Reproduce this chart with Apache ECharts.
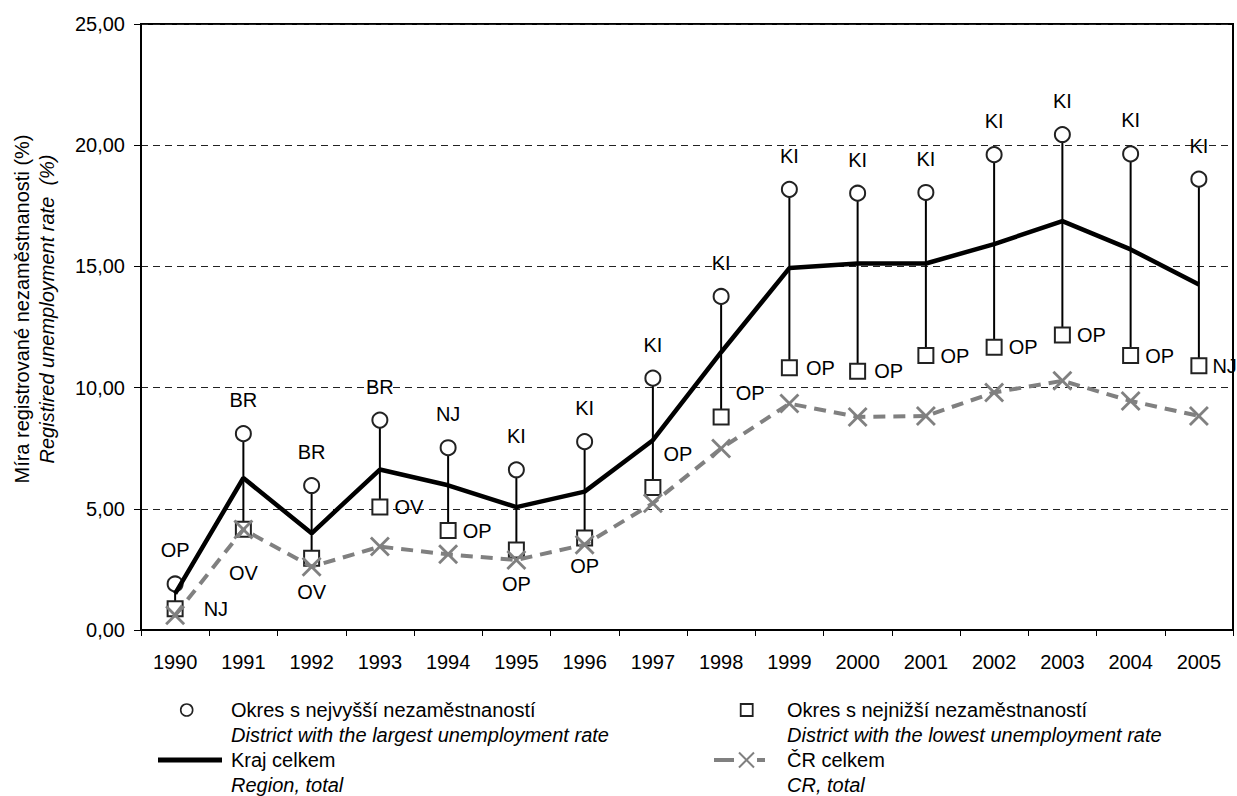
<!DOCTYPE html>
<html>
<head>
<meta charset="utf-8">
<script src="https://cdn.jsdelivr.net/npm/echarts@6/dist/echarts.min.js"></script>
<style>
html,body{margin:0;padding:0;background:#fff;}
#chart{width:1237px;height:796px;}
</style>
</head>
<body>
<div id="chart"></div>
<script>
// ---- data ----
const years = ['1990','1991','1992','1993','1994','1995','1996','1997','1998','1999','2000','2001','2002','2003','2004','2005'];
const maxDistrict = [1.90, 8.10, 5.96, 8.66, 7.52, 6.61, 7.77, 10.39, 13.76, 18.18, 18.02, 18.05, 19.61, 20.44, 19.64, 18.60];
const minDistrict = [0.88, 4.16, 2.96, 5.07, 4.10, 3.30, 3.80, 5.88, 8.79, 10.82, 10.67, 11.32, 11.66, 12.17, 11.32, 10.90];
const regionTotal = [1.50, 6.27, 3.99, 6.62, 5.97, 5.07, 5.71, 7.83, 11.46, 14.93, 15.12, 15.12, 15.92, 16.87, 15.70, 14.25];
const crTotal     = [0.61, 4.15, 2.61, 3.44, 3.12, 2.89, 3.52, 5.23, 7.49, 9.34, 8.79, 8.83, 9.80, 10.28, 9.45, 8.83];
const maxLabels = ['OP','BR','BR','BR','NJ','KI','KI','KI','KI','KI','KI','KI','KI','KI','KI','KI'];
const minLabels = ['NJ','OV','OV','OV','OP','OP','OP','OP','OP','OP','OP','OP','OP','OP','OP','NJ'];
const yTicks = [0, 5, 10, 15, 20, 25];
const legendTexts = {
  max: ['Okres s nejvyšší nezaměstnaností', 'District with the largest unemployment rate'],
  min: ['Okres s nejnižší nezaměstnaností', 'District with the lowest unemployment rate'],
  region: ['Kraj celkem', 'Region, total'],
  cr: ['ČR celkem', 'CR, total']
};

// ---- label placement (layout only) ----
const minLabelPlace = [
  {position:'right', distance:20},
  {position:'bottom', distance:25},
  {position:'bottom', distance:15},
  {position:'right', distance:6},
  {position:'right', distance:6},
  {position:'bottom', distance:15},
  {position:'bottom', distance:10},
  {position:'inside', offset:[25,-33]},
  {position:'inside', offset:[29,-24]},
  {position:'right', distance:8},
  {position:'right', distance:8},
  {position:'right', distance:6},
  {position:'right', distance:6},
  {position:'right', distance:6},
  {position:'right', distance:6},
  {position:'right', distance:5}
];

const FONT = 'Liberation Sans, Arial, sans-serif';
const X_PATH = 'path://M1,0 L5,4 L9,0 L10,1 L6,5 L10,9 L9,10 L5,6 L1,10 L0,9 L4,5 L0,1 Z';

const chart = echarts.init(document.getElementById('chart'), null, {renderer:'svg'});

function legendText(x, y, txt, italic) {
  return {type:'text', x:x, y:y, silent:true,
    style:{text:txt, font:(italic ? 'italic ' : '') + '20px ' + FONT, fill:'#000', align:'left', verticalAlign:'middle'}};
}

const LX1 = 231, LX2 = 787, R1 = 710, R2 = 735, R3 = 760, R4 = 785;

const option = {
  animation:false,
  backgroundColor:'#fff',
  textStyle:{fontFamily:FONT},
  grid:{left:141, right:4, top:24, bottom:166, show:true, borderColor:'#000', borderWidth:2, backgroundColor:'transparent'},
  xAxis:{
    type:'category', data:years, boundaryGap:true,
    axisLine:{lineStyle:{color:'#000', width:2}},
    axisTick:{show:true, interval:0, length:6, lineStyle:{color:'#000', width:1}},
    axisLabel:{interval:0, margin:22, fontSize:20, color:'#000', fontFamily:FONT},
    splitLine:{show:false}
  },
  yAxis:{
    type:'value', min:yTicks[0], max:yTicks[yTicks.length-1], interval:5,
    axisLine:{show:true, lineStyle:{color:'#000', width:2}},
    axisTick:{show:true, length:7, lineStyle:{color:'#000', width:1}},
    axisLabel:{margin:16, fontSize:20, color:'#000', fontFamily:FONT,
      formatter:v => v.toFixed(2).replace('.', ',')},
    splitLine:{show:true, lineStyle:{color:'#222', width:1, type:[7,5]}},
    name:'{a|Míra registrované nezaměstnanosti (%)}\n{b|Registired unemployment rate  (%)}',
    nameLocation:'middle', nameRotate:90, nameGap:82,
    nameTextStyle:{
      padding:[0,0,0,36],
      rich:{
        a:{fontFamily:FONT, fontSize:20, color:'#000', lineHeight:25},
        b:{fontFamily:FONT, fontSize:20, color:'#000', fontStyle:'italic', lineHeight:25}
      }
    }
  },
  graphic:[
    {type:'circle', silent:true, shape:{cx:186.7, cy:R1, r:6}, style:{fill:'#fff', stroke:'#222', lineWidth:1.6}},
    legendText(LX1, R1, legendTexts.max[0], false),
    legendText(LX1, R2, legendTexts.max[1], true),
    {type:'rect', silent:true, shape:{x:740.7, y:R1-6, width:12, height:12}, style:{fill:'#fff', stroke:'#222', lineWidth:1.8}},
    legendText(LX2, R1, legendTexts.min[0], false),
    legendText(LX2, R2, legendTexts.min[1], true),
    {type:'line', silent:true, shape:{x1:158, y1:R3, x2:222, y2:R3}, style:{stroke:'#000', lineWidth:5}},
    legendText(LX1, R3, legendTexts.region[0], false),
    legendText(LX1, R4, legendTexts.region[1], true),
    {type:'line', silent:true, shape:{x1:714, y1:R3, x2:734, y2:R3}, style:{stroke:'#808080', lineWidth:4}},
    {type:'line', silent:true, shape:{x1:757, y1:R3, x2:765, y2:R3}, style:{stroke:'#808080', lineWidth:4}},
    {type:'line', silent:true, shape:{x1:739, y1:R3-7.5, x2:754, y2:R3+7.5}, style:{stroke:'#808080', lineWidth:2}},
    {type:'line', silent:true, shape:{x1:754, y1:R3-7.5, x2:739, y2:R3+7.5}, style:{stroke:'#808080', lineWidth:2}},
    legendText(LX2, R3, legendTexts.cr[0], false),
    legendText(LX2, R4, legendTexts.cr[1], true)
  ],
  series:[
    {
      type:'custom', name:'range', silent:true, z:1,
      data: years.map((y,i)=>[i, minDistrict[i], maxDistrict[i]]),
      renderItem:(params, api) => {
        const p1 = api.coord([api.value(0), api.value(1)]);
        const p2 = api.coord([api.value(0), api.value(2)]);
        return {type:'line', shape:{x1:p1[0], y1:p1[1], x2:p2[0], y2:p2[1]}, style:{stroke:'#000', lineWidth:2}};
      }
    },
    {
      type:'scatter', name:legendTexts.max[0], z:3,
      data:maxDistrict, symbol:'circle', symbolSize:15,
      itemStyle:{color:'#fff', borderColor:'#222', borderWidth:2, opacity:1},
      label:{show:true, position:'top', distance:15, fontSize:20, color:'#000', fontFamily:FONT,
        formatter:p => maxLabels[p.dataIndex]}
    },
    {
      type:'scatter', name:legendTexts.min[0], z:3,
      data:minDistrict.map((v,i)=>({value:v, label:minLabelPlace[i]})), symbol:'rect', symbolSize:15,
      itemStyle:{color:'#fff', borderColor:'#222', borderWidth:2, opacity:1},
      label:{show:true, fontSize:20, color:'#000', fontFamily:FONT,
        formatter:p => minLabels[p.dataIndex]}
    },
    {
      type:'line', name:legendTexts.cr[0], z:4,
      data:crTotal, symbol:X_PATH, symbolSize:20, showSymbol:true,
      lineStyle:{color:'#808080', width:4, type:[12,8]},
      itemStyle:{color:'#808080', borderWidth:0}
    },
    {
      type:'line', name:legendTexts.region[0], z:5,
      data:regionTotal, symbol:'none',
      lineStyle:{color:'#000', width:4.5},
      itemStyle:{color:'#000'}
    }
  ]
};
chart.setOption(option);
</script>
</body>
</html>
